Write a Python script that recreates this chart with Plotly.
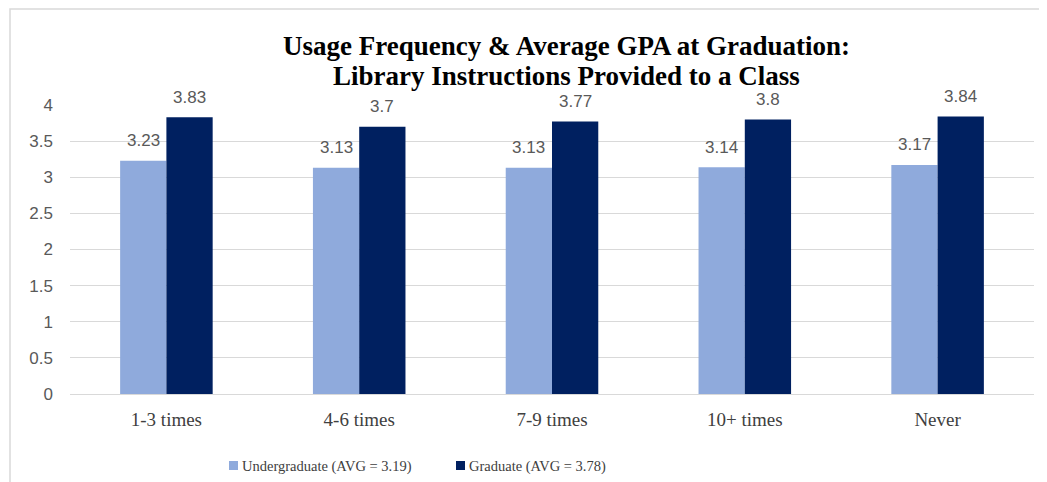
import plotly.graph_objects as go

categories = ["1-3 times", "4-6 times", "7-9 times", "10+ times", "Never"]
undergrad = [3.23, 3.13, 3.13, 3.14, 3.17]
graduate = [3.83, 3.70, 3.77, 3.80, 3.84]
undergrad_labels = ["3.23", "3.13", "3.13", "3.14", "3.17"]
graduate_labels = ["3.83", "3.7", "3.77", "3.8", "3.84"]
series_names = ["Undergraduate (AVG = 3.19)", "Graduate (AVG = 3.78)"]
series_colors = ["#8FAADC", "#002060"]
title_lines = ["Usage Frequency & Average GPA at Graduation:",
               "Library Instructions Provided to a Class"]
y_ticks = [0, 0.5, 1, 1.5, 2, 2.5, 3, 3.5, 4]
y_tick_labels = ["0", "0.5", "1", "1.5", "2", "2.5", "3", "3.5", "4"]

# the page body has an 8px margin; work in screenshot pixels and convert
OFF = 8
W, H = 1047 - OFF, 482 - OFF
L, R, T, B = 70 - OFF, 13, 105 - OFF, 88
PW, PH = W - L - R, H - T - B
BARGAP = 0.52


def px(x):
    return (x - OFF - L) / PW


def py(y):
    return (H - B - (y - OFF)) / PH


label_font = dict(family="Liberation Sans, Arial", size=17, color="#595959")
serif = "Liberation Serif, Times New Roman"

fig = go.Figure()
for vals, name, color in [(undergrad, series_names[0], series_colors[0]),
                          (graduate, series_names[1], series_colors[1])]:
    fig.add_trace(go.Bar(x=categories, y=vals, name=name,
                         marker=dict(color=color, line=dict(width=0)),
                         showlegend=False))

# data labels above each bar
half = (1 - BARGAP) / 4
for labels, vals, shift in [(undergrad_labels, undergrad, -half), (graduate_labels, graduate, half)]:
    for i, (lab, v) in enumerate(zip(labels, vals)):
        fig.add_annotation(x=i + shift, y=v, text=lab, showarrow=False,
                           xanchor="center", yanchor="middle", yshift=20,
                           font=label_font)

fig.update_layout(
    width=W, height=H,
    margin=dict(l=L, r=R, t=T, b=B, autoexpand=False),
    paper_bgcolor="white", plot_bgcolor="white",
    barmode="group", bargap=BARGAP, bargroupgap=0,
    showlegend=False,
)
fig.update_yaxes(range=[0, 4], tickvals=y_ticks, ticktext=y_tick_labels,
                 showgrid=True, gridcolor="#D9D9D9", gridwidth=1,
                 zeroline=True, zerolinecolor="#D9D9D9", zerolinewidth=1,
                 tickfont=label_font, ticks="", ticklabelstandoff=16, showline=False)
fig.update_xaxes(tickfont=dict(family=serif, size=19, color="#404040"),
                 showline=True, linecolor="#D9D9D9", linewidth=1, ticks="",
                 ticklabelstandoff=8)

# title (two lines, tight spacing)
for line, ymid in zip(title_lines, [46, 76]):
    fig.add_annotation(text="<b>" + line + "</b>", xref="paper", yref="paper",
                       x=px(566), y=py(ymid), xanchor="center", yanchor="middle",
                       showarrow=False,
                       font=dict(family=serif, size=27, color="#000000"))

# legend (manual)
for name, color, sq_x, txt_x in [(series_names[0], series_colors[0], 229, 240),
                                 (series_names[1], series_colors[1], 456, 467)]:
    fig.add_shape(type="rect", xref="paper", yref="paper",
                  x0=px(sq_x), x1=px(sq_x + 9), y0=py(470), y1=py(461),
                  fillcolor=color, line=dict(width=0))
    fig.add_annotation(text=name, xref="paper", yref="paper",
                       x=px(txt_x), y=py(466), xanchor="left", yanchor="middle",
                       showarrow=False,
                       font=dict(family=serif, size=14.5, color="#404040"))

# outer chart frame
fig.add_shape(type="rect", xref="paper", yref="paper",
              x0=px(10), x1=px(1100), y0=py(600), y1=py(9),
              line=dict(color="#D9D9D9", width=1.5), fillcolor="rgba(0,0,0,0)", layer="below")

fig.write_html("out.html")
